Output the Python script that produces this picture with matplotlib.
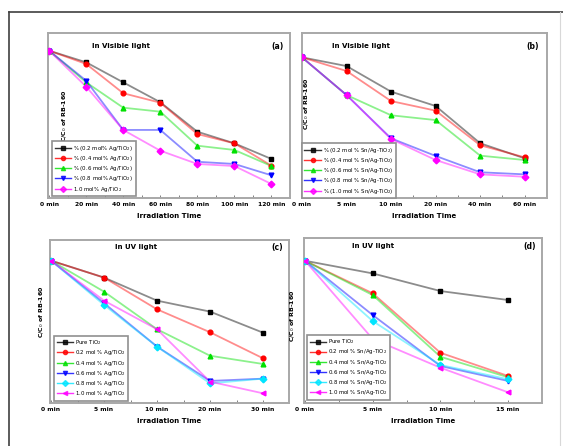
import matplotlib
matplotlib.use("Agg")
import matplotlib.pyplot as plt
from matplotlib.lines import Line2D

# panel (a): visible light, Ag/TiO2
a_ticks = ["0 min", "20 min", "40 min", "60 min", "80 min", "100 min", "120 min"]
a_labels = ["% (0.2 mol% Ag/TiO$_2$)", "% (0.4 mol% Ag/TiO$_2$)", "% (0.6 mol% Ag/TiO$_2$)",
            "% (0.8 mol% Ag/TiO$_2$)", "1.0 mol% Ag/TiO$_2$"]
a_02 = [1.0, 0.910, 0.711, 0.647, 0.434, 0.371, 0.219]
a_blk = [1.0, 0.921, 0.785, 0.650, 0.450, 0.371, 0.265]
a_04 = [1.0, 0.785, 0.613, 0.586, 0.355, 0.326, 0.217]
a_06 = [1.0, 0.796, 0.462, 0.462, 0.246, 0.231, 0.154]
a_10 = [1.0, 0.756, 0.462, 0.321, 0.231, 0.217, 0.095]

# panel (b): visible light, Sn/Ag-TiO2
b_ticks = ["0 min", "5 min", "10 min", "20 min", "40 min", "60 min"]
b_labels = ["% (0.2 mol % Sn/Ag-TiO$_2$)", "% (0.4 mol % Sn/Ag-TiO$_2$)", "% (0.6 mol % Sn/Ag-TiO$_2$)",
            "% (0.8 mol % Sn/Ag-TiO$_2$)", "% (1.0 mol % Sn/Ag-TiO$_2$)"]
b_1 = [1.0, 0.938, 0.756, 0.654, 0.389, 0.282]
b_2 = [1.0, 0.903, 0.689, 0.621, 0.375, 0.289]
b_3 = [1.0, 0.732, 0.588, 0.554, 0.301, 0.270]
b_4 = [1.0, 0.732, 0.424, 0.299, 0.183, 0.168]
b_5 = [1.0, 0.732, 0.419, 0.270, 0.168, 0.151]

# panel (c): UV light, Ag/TiO2
c_ticks = ["0 min", "5 min", "10 min", "20 min", "30 min"]
c_labels = ["Pure TiO$_2$", "0.2 mol % Ag/TiO$_2$", "0.4 mol % Ag/TiO$_2$", "0.6 mol % Ag/TiO$_2$",
            "0.8 mol % Ag/TiO$_2$", "1.0 mol % Ag/TiO$_2$"]
c_pure = [1.0, 0.881, 0.719, 0.642, 0.494]
c_02 = [1.0, 0.881, 0.658, 0.497, 0.314]
c_04 = [1.0, 0.782, 0.518, 0.332, 0.274]
c_06 = [1.0, 0.701, 0.396, 0.155, 0.171]
c_08 = [1.0, 0.689, 0.396, 0.138, 0.171]
c_10 = [1.0, 0.719, 0.518, 0.150, 0.068]

# panel (d): UV light, Sn/Ag-TiO2
d_ticks = ["0 min", "5 min", "10 min", "15 min"]
d_labels = ["Pure TiO$_2$", "0.2 mol % Sn/Ag-TiO$_2$", "0.4 mol % Sn/Ag-TiO$_2$", "0.6 mol % Sn/Ag-TiO$_2$",
            "0.8 mol % Sn/Ag-TiO$_2$", "1.0 mol % Sn/Ag-TiO$_2$"]
d_pure = [1.0, 0.911, 0.787, 0.724]
d_02 = [1.0, 0.771, 0.353, 0.190]
d_04 = [1.0, 0.759, 0.325, 0.181]
d_06 = [1.0, 0.618, 0.260, 0.155]
d_08 = [1.0, 0.576, 0.267, 0.167]
d_10 = [1.0, 0.450, 0.248, 0.075]

col5 = ["#000000", "#ff0000", "#00e000", "#0000ff", "#ff00ff"]
mk5 = ["s", "o", "^", "v", "D"]
col6 = ["#000000", "#ff0000", "#00e000", "#0000ff", "#00e5ff", "#ff00ff"]
mk6 = ["s", "o", "^", "v", "D", "<"]

W, H = 563, 446
fig = plt.figure(figsize=(W / 100, H / 100), dpi=100)

# outer frame of the picture
fig.add_artist(Line2D([9 / W, 9 / W], [0, 1 - 12 / H], color="#404040", lw=1.2))
fig.add_artist(Line2D([9 / W, 1], [1 - 12 / H, 1 - 12 / H], color="#404040", lw=1.2))
fig.add_artist(Line2D([560 / W, 560 / W], [0, 1 - 12 / H], color="#d8d8d8", lw=0.8))


def panel(box, ticks, series, labels, colors, markers, ylim, xlim, title, tpos, tag, tagx, ylpos, legbox):
    l, t, r, b = box
    ax = fig.add_axes([l / W, 1 - b / H, (r - l) / W, (b - t) / H])
    x = list(range(len(ticks)))
    handles = []
    for y, lab, c, m in zip(series, labels, colors, markers):
        ax.plot(x, y, color=c, alpha=0.45, lw=1.3, zorder=2)
        ax.plot(x, y, ls="none", marker=m, ms=3.4, color=c, zorder=3)
        handles.append(Line2D([], [], color=c, lw=1.0, marker=m, ms=3, alpha=0.8, label=lab))
    ax.set_xlim(*xlim)
    ax.set_ylim(0, ylim)
    ax.set_xticks(x)
    ax.set_xticklabels(ticks, fontsize=4.3, fontweight="bold")
    ax.set_xticks([i + 0.5 for i in x[:-1]], minor=True)
    ax.set_yticks([])
    ax.tick_params(axis="x", which="both", direction="in", length=2.5, width=0.7, color="#808080", pad=3)
    for s in ax.spines.values():
        s.set_color("#a8a8a8")
        s.set_linewidth(1.4)
    ax.set_xlabel("Irradiation Time", fontsize=5, fontweight="bold", labelpad=4)
    ax.text(tpos[0], tpos[1], title, transform=ax.transAxes, fontsize=5, fontweight="bold",
            ha="center", va="center")
    ax.text(tagx, tpos[1], tag, transform=ax.transAxes, fontsize=5.5, fontweight="bold",
            ha="center", va="center")
    ax.text(ylpos[0], ylpos[1], "C/C$_0$ of RB-160", transform=ax.transAxes, rotation=90,
            fontsize=4.5, fontweight="bold", ha="center", va="center")
    leg = ax.legend(handles=handles, loc="lower left", bbox_to_anchor=legbox, borderaxespad=0,
                    fontsize=3.9, handlelength=3.0, handletextpad=0.4, labelspacing=0.22,
                    borderpad=0.45, fancybox=False, framealpha=1)
    leg.get_frame().set_edgecolor("#909090")
    leg.get_frame().set_linewidth(1.2)
    return ax


panel((48, 33, 290, 198), a_ticks, [a_blk, a_02, a_04, a_06, a_10], a_labels, col5, mk5,
      1.12, (-0.03, 6.5), "In Visible light", (0.30, 0.92), "(a)", 0.95, (0.07, 0.50), (0.017, 0.012))
panel((302, 33, 547, 198), b_ticks, [b_1, b_2, b_3, b_4, b_5], b_labels, col5, mk5,
      1.173, (0, 5.5), "In Visible light", (0.24, 0.92), "(b)", 0.94, (0.02, 0.57), (0.0, 0.0))
panel((50, 240, 289, 403), c_ticks, [c_pure, c_02, c_04, c_06, c_08, c_10], c_labels, col6, mk6,
      1.145, (-0.02, 4.49), "In UV light", (0.36, 0.955), "(c)", 0.95, (-0.035, 0.56), (0.017, 0.015))
panel((304, 238, 542, 403), d_ticks, [d_pure, d_02, d_04, d_06, d_08, d_10], d_labels, col6, mk6,
      1.16, (-0.015, 3.5), "In UV light", (0.29, 0.95), "(d)", 0.95, (-0.046, 0.53), (0.013, 0.02))

fig.savefig("out.png", dpi=100)
